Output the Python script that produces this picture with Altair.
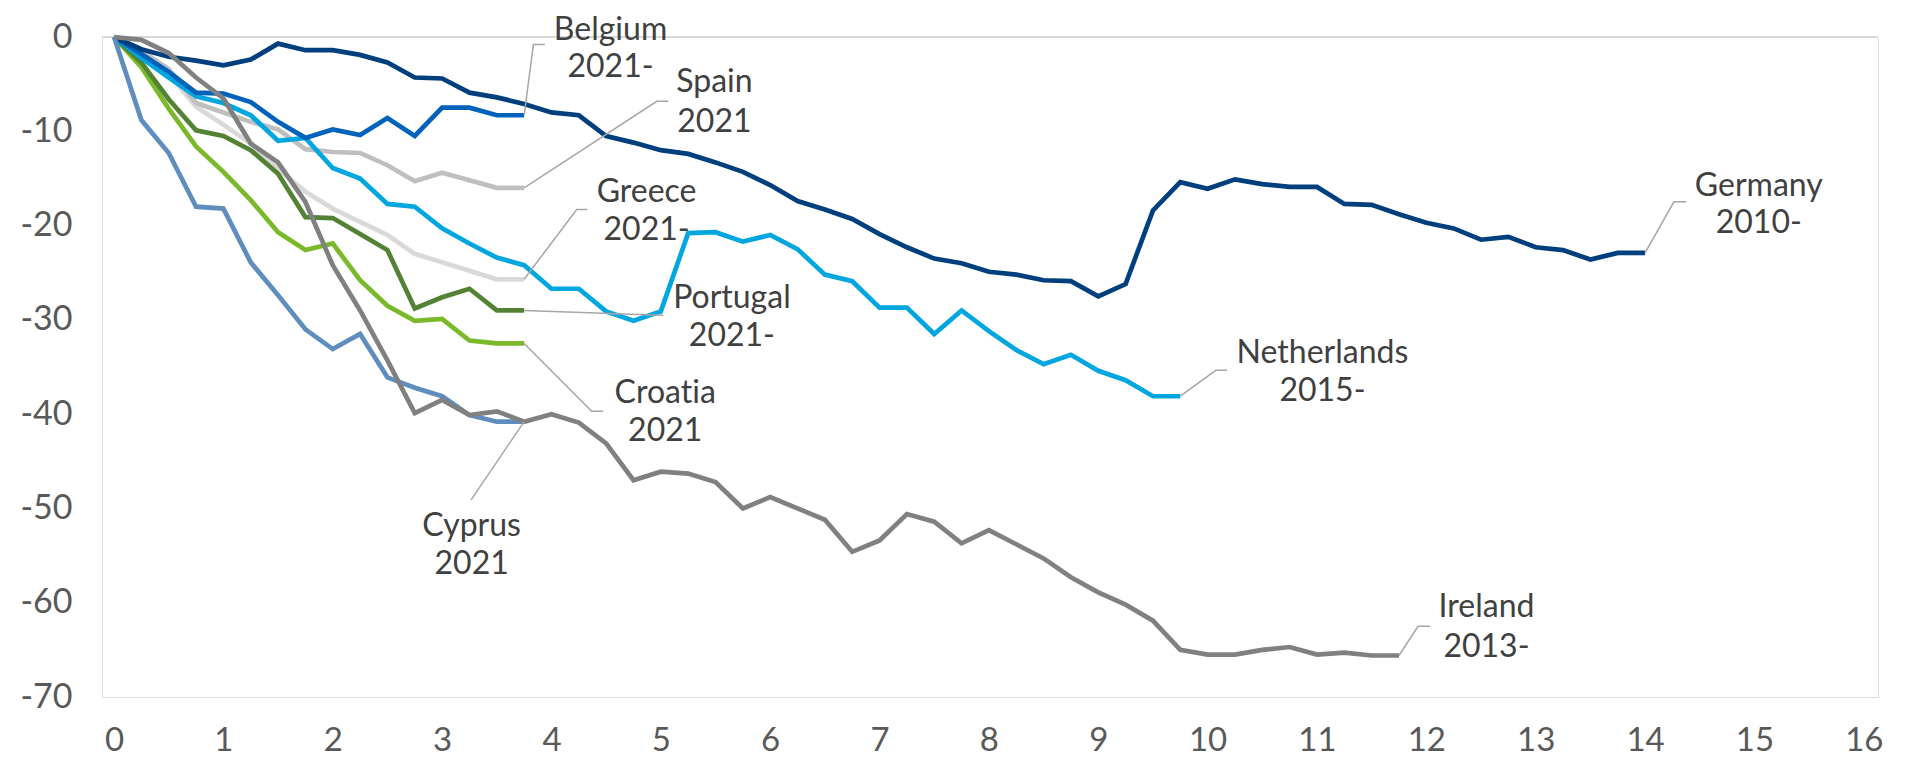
import altair as alt
import pandas as pd

# Quarterly observations (years since start, step 0.25)
STEP = 0.25

germany = [0, -1.3, -2.1, -2.5, -3.0, -2.4, -0.7, -1.4, -1.4, -1.9, -2.7, -4.3, -4.4, -5.9, -6.4, -7.1,
           -8.0, -8.3, -10.5, -11.2, -12.0, -12.4, -13.3, -14.3, -15.7, -17.4, -18.3, -19.3, -20.9,
           -22.3, -23.5, -24.0, -24.9, -25.2, -25.8, -25.9, -27.5, -26.2, -18.4, -15.4, -16.1, -15.1,
           -15.6, -15.9, -15.9, -17.7, -17.8, -18.8, -19.7, -20.3, -21.5, -21.2, -22.3, -22.6, -23.6,
           -22.9, -22.9]
belgium = [0, -1.8, -3.7, -5.9, -6.0, -6.9, -9.0, -10.7, -9.8, -10.4, -8.6, -10.5, -7.5, -7.5, -8.3, -8.3]
spain = [0, -1.5, -3.4, -7.0, -8.0, -9.0, -9.8, -11.9, -12.2, -12.3, -13.6, -15.3, -14.4, -15.2, -16.0, -16.0]
greece = [0, -1.8, -3.9, -7.4, -9.3, -11.3, -14.0, -16.4, -18.2, -19.6, -21.0, -23.0, -23.9, -24.8, -25.7, -25.7]
netherlands = [0, -2.2, -4.3, -6.3, -7.0, -8.3, -11.0, -10.7, -13.9, -15.0, -17.7, -18.0, -20.3, -21.9,
               -23.4, -24.2, -26.7, -26.7, -29.1, -30.1, -29.1, -20.8, -20.7, -21.7, -21.0, -22.5,
               -25.2, -25.9, -28.7, -28.7, -31.5, -29.0, -31.2, -33.2, -34.7, -33.7, -35.4, -36.4,
               -38.1, -38.1]
portugal = [0, -2.7, -6.6, -9.9, -10.5, -12.0, -14.5, -19.1, -19.2, -20.9, -22.6, -28.8, -27.6, -26.7, -29.0, -29.0]
croatia = [0, -3.2, -7.6, -11.6, -14.3, -17.3, -20.7, -22.6, -21.9, -25.8, -28.5, -30.1, -29.9, -32.2, -32.5, -32.5]
cyprus = [0, -8.8, -12.3, -18.0, -18.2, -23.9, -27.4, -31.0, -33.1, -31.5, -36.1, -37.2, -38.1, -40.1, -40.8, -40.8]
ireland = [0, -0.3, -1.7, -4.3, -6.5, -11.3, -13.3, -17.5, -24.2, -29.0, -34.3, -39.9, -38.5, -40.1, -39.7,
           -40.8, -40.0, -40.9, -43.1, -47.0, -46.1, -46.3, -47.2, -50.0, -48.8, -50.0, -51.2, -54.6,
           -53.4, -50.6, -51.4, -53.7, -52.3, -53.8, -55.3, -57.3, -58.9, -60.2, -61.9, -65.0, -65.5,
           -65.5, -65.0, -64.7, -65.5, -65.3, -65.6, -65.6]

# drawing order (first = bottom)
series_names = ["Greece", "Spain", "Croatia", "Portugal", "Netherlands", "Belgium", "Germany", "Cyprus", "Ireland"]
series_values = [greece, spain, croatia, portugal, netherlands, belgium, germany, cyprus, ireland]
series_colors = ["#d9d9d9", "#bfbfbf", "#7ab929", "#548235", "#00a6df", "#0062ba", "#003f7d", "#5f8dbd", "#808080"]

# two-line labels (ZWNJ in "Croatia" keeps the t and i apart)
label_names = ["Belgium", "Spain", "Greece", "Portugal", "Croatia", "Cyprus", "Netherlands", "Germany", "Ireland"]
label_line1 = ["Belgium", "Spain", "Greece", "Portugal", "Croat\u200cia", "Cyprus", "Netherlands", "Germany", "Ireland"]
label_line2 = ["2021-", "2021", "2021-", "2021-", "2021", "2021", "2015-", "2010-", "2013-"]
label_x = [4.54, 5.49, 4.87, 5.65, 5.04, 3.27, 11.05, 15.04, 12.55]
label_y1 = [0.7, -4.8, -16.45, -27.7, -37.8, -51.9, -33.55, -15.75, -60.5]
label_y2 = [-3.2, -9.0, -20.5, -31.7, -41.8, -55.9, -37.55, -19.7, -64.7]
# leader line bend / end points
leader_bend_x = [3.835, 4.963, 4.231, 5.0, 4.368, 3.265, 10.075, 14.264, 11.924]
leader_end_x = [3.94, 5.069, 4.328, 5.02, 4.474, 3.265, 10.178, 14.376, 12.035]
leader_y = [-0.8, -6.82, -18.29, -29.5, -39.69, -49.1, -35.35, -17.48, -62.5]

rows = []
for name, vals in zip(series_names, series_values):
    for i, v in enumerate(vals):
        rows.append({"country": name, "t": i * STEP, "v": v})
df = pd.DataFrame(rows)

ends = {n: ((len(v) - 1) * STEP, v[-1]) for n, v in zip(series_names, series_values)}
lrows = []
for n, bx, ex, ly in zip(label_names, leader_bend_x, leader_end_x, leader_y):
    sx, sy = ends[n]
    lrows += [{"lab": n, "o": 0, "t": sx, "v": sy},
              {"lab": n, "o": 1, "t": bx, "v": ly},
              {"lab": n, "o": 2, "t": ex, "v": ly}]
ldf = pd.DataFrame(lrows)

trows = []
for a, b, x, y1, y2 in zip(label_line1, label_line2, label_x, label_y1, label_y2):
    trows.append({"t": x, "v": y1, "txt": a})
    trows.append({"t": x, "v": y2, "txt": b})
tdf = pd.DataFrame(trows)

xscale = alt.Scale(domain=[-0.11, 16.13], nice=False, zero=False)
yscale = alt.Scale(domain=[-70, 0], nice=False, zero=False)
xaxis = alt.Axis(values=list(range(0, 17)), title=None, grid=False, domain=False, ticks=False,
                 tickSize=0, labelPadding=27, labelFontSize=33, labelFont="Lato", labelColor="#595959",
                 labelExpr="'' + datum.value")
yaxis = alt.Axis(values=list(range(-70, 1, 10)), title=None, grid=False, domain=False, ticks=False,
                 tickSize=0, labelPadding=30, labelFontSize=34, labelFont="Lato", labelColor="#595959",
                 labelExpr="'' + datum.value")

X = alt.X("t:Q", scale=xscale, axis=xaxis)
Y = alt.Y("v:Q", scale=yscale, axis=yaxis)

zero = alt.Chart(pd.DataFrame({"v": [0]})).mark_rule(color="#d9d9d9", strokeWidth=2).encode(y=Y)

layers = [zero]
for name, col in zip(series_names, series_colors):
    layers.append(
        alt.Chart(df[df.country == name]).mark_line(color=col, strokeWidth=4.7, strokeJoin="miter")
        .encode(x=X, y=Y)
    )

leaders = alt.Chart(ldf).mark_line(color="#a6a6a6", strokeWidth=1.5).encode(
    x=X, y=Y, detail="lab:N", order="o:Q")
texts = alt.Chart(tdf).mark_text(align="center", baseline="middle", font="Lato", fontSize=32,
                                 color="#404040").encode(x=X, y=Y, text="txt:N")

chart = alt.layer(*layers, leaders, texts).properties(
    width=1776, height=660,
    padding={"left": 94, "top": 29, "right": 20, "bottom": 62},
    autosize=alt.AutoSizeParams(type="none"),
).configure_view(stroke=None).configure(background="white")

chart.save("out.html", embed_options={"renderer": "svg", "actions": False})
